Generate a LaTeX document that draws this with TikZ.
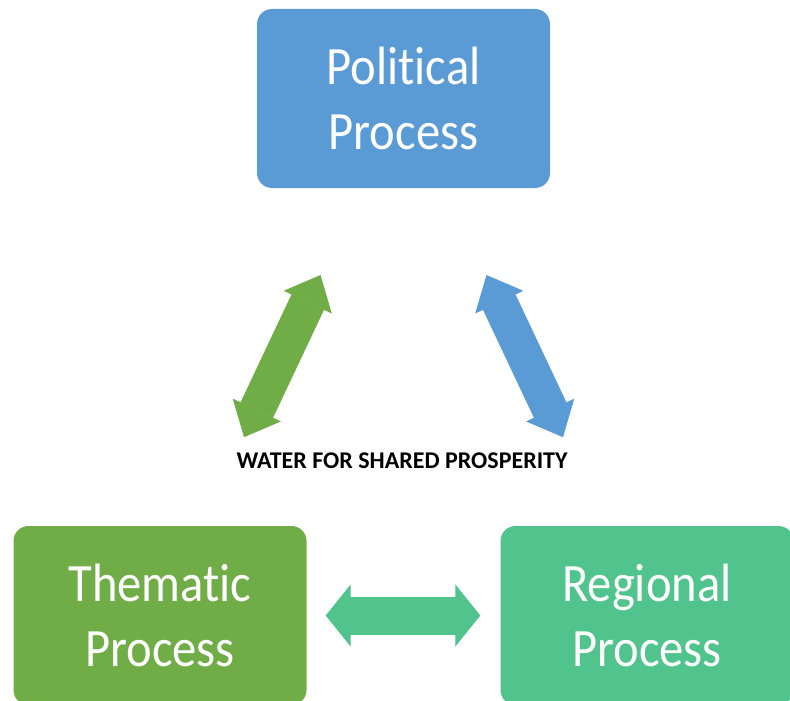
\documentclass[tikz,border=0pt]{standalone}
\usepackage{fontspec}
\setmainfont{Carlito}[Ligatures=NoCommon]
\newfontfamily\boxfont[FakeStretch=0.9,Ligatures=NoCommon]{Carlito}
\usetikzlibrary{arrows.meta}

\definecolor{polblue}{HTML}{5B9BD5}
\definecolor{themgreen}{HTML}{70AD47}
\definecolor{regteal}{HTML}{50C48C}

\begin{document}
\begin{tikzpicture}[x=1pt,y=-1pt,
  procbox/.style={rectangle,rounded corners=15pt,minimum width=293pt,minimum height=179pt,
    text=white,align=center,font=\boxfont\fontsize{54}{65}\selectfont},
  slantarrow/.style={line width=36pt,{Triangle[width=53pt,length=30pt,line width=1pt]}-{Triangle[width=53pt,length=30pt,line width=1pt]},
    shorten <=98pt,shorten >=96pt},
  flatarrow/.style={line width=38pt,{Triangle[width=62pt,length=25pt,line width=1pt]}-{Triangle[width=62pt,length=25pt,line width=1pt]},
    shorten <=19pt,shorten >=20pt}
]

  \useasboundingbox (0,0) rectangle (790,701);
  \clip (0,0) rectangle (790,701);

  % the three processes
  \node[procbox,fill=polblue] (political) at (403.5,98.5) {Political\\Process};
  \node[procbox,fill=themgreen] (thematic) at (160,615.5) {Thematic\\Process};
  \node[procbox,fill=regteal] (regional) at (647,615.5) {Regional\\Process};

  \node[font=\bfseries\fontsize{24}{29}\selectfont] (motto) at (402,461) {WATER FOR SHARED PROSPERITY};

  % links between them
  \draw[slantarrow,draw=themgreen] (thematic) -- (political);
  \draw[slantarrow,draw=polblue] (regional) -- (political);
  \draw[flatarrow,draw=regteal] (thematic) -- (regional);
\end{tikzpicture}
\end{document}
